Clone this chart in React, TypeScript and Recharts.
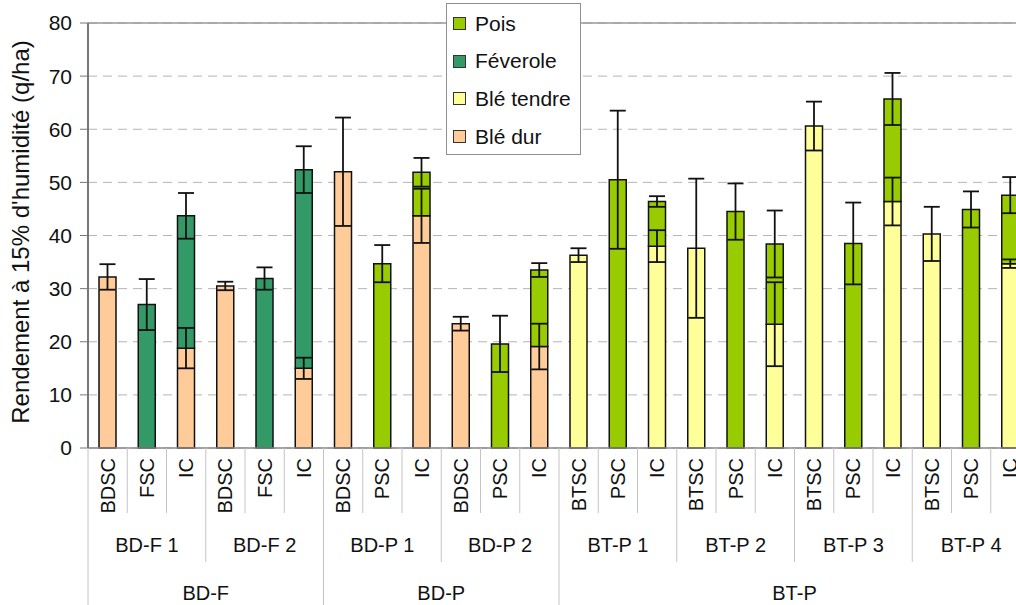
import React from "react";
import { BarChart, Bar, XAxis, YAxis, CartesianGrid, ErrorBar, Legend, ReferenceLine } from "recharts";

// x-axis levels
const categories = [
  "BDSC", "FSC", "IC", "BDSC", "FSC", "IC",
  "BDSC", "PSC", "IC", "BDSC", "PSC", "IC",
  "BTSC", "PSC", "IC", "BTSC", "PSC", "IC",
  "BTSC", "PSC", "IC", "BTSC", "PSC", "IC",
];
const groups = ["BD-F 1", "BD-F 2", "BD-P 1", "BD-P 2", "BT-P 1", "BT-P 2", "BT-P 3", "BT-P 4"];
const sections = ["BD-F", "BD-P", "BT-P"];
const sectionStarts = [0, 6, 12];
const sectionEnds = [6, 12, 24];

// yields (q/ha) and error (+/-) per species, null = not grown
const bleDur = [32.2, null, 18.8, 30.5, null, 15.0, 52.0, null, 43.7, 23.4, null, 19.1, null, null, null, null, null, null, null, null, null, null, null, null];
const bleDurErr = [2.4, null, 3.8, 0.8, null, 2.0, 10.2, null, 5.1, 1.3, null, 4.3, null, null, null, null, null, null, null, null, null, null, null, null];
const bleTendre = [null, null, null, null, null, null, null, null, null, null, null, null, 36.3, null, 38.0, 37.6, null, 23.3, 60.6, null, 46.4, 40.3, null, 34.7];
const bleTendreErr = [null, null, null, null, null, null, null, null, null, null, null, null, 1.3, null, 3.0, 13.1, null, 7.9, 4.6, null, 4.5, 5.1, null, 0.8];
const feverole = [null, 27.0, 24.9, null, 31.9, 37.4, null, null, null, null, null, null, null, null, null, null, null, null, null, null, null, null, null, null];
const feveroleErr = [null, 4.8, 4.3, null, 2.1, 4.4, null, null, null, null, null, null, null, null, null, null, null, null, null, null, null, null, null, null];
const pois = [null, null, null, null, null, null, null, 34.7, 8.2, null, 19.6, 14.4, null, 50.5, 8.4, null, 44.5, 15.1, null, 38.5, 19.3, null, 44.9, 12.9];
const poisErr = [null, null, null, null, null, null, null, 3.5, 2.7, null, 5.3, 1.3, null, 13.0, 1.0, null, 5.3, 6.3, null, 7.7, 4.9, null, 3.4, 3.4];

const yTicks = [0, 10, 20, 30, 40, 50, 60, 70, 80];

const data = categories.map((name, i) => ({
  name,
  bleDur: bleDur[i], bleDurErr: bleDurErr[i],
  bleTendre: bleTendre[i], bleTendreErr: bleTendreErr[i],
  feverole: feverole[i], feveroleErr: feveroleErr[i],
  pois: pois[i], poisErr: poisErr[i],
}));

const CHART_W = 1040;
const CHART_H = 605;
const Y_AXIS_W = 88;
const MARGIN = { top: 23, right: 10, bottom: 0, left: 0 };
const SLOT = (CHART_W - MARGIN.right - Y_AXIS_W) / categories.length;
const FONT = "'Liberation Sans', Arial, sans-serif";

function CategoryTick({ x, y, index }: any) {
  const left = x - SLOT / 2;
  let len = 65;
  if (sectionStarts.includes(index)) len = 157;
  else if (index % 3 === 0) len = 114;
  const secIdx = sectionStarts.findIndex((s, k) => index === Math.floor((s + sectionEnds[k]) / 2));
  return (
    <g>
      <line x1={left} y1={y} x2={left} y2={y + len} stroke="#c4c4c4" strokeWidth={1} />
      <text
        x={x + 7}
        y={y + 10}
        transform={`rotate(-90 ${x + 7} ${y + 10})`}
        textAnchor="end"
        fontSize={20}
        fill="#111"
        fontFamily={FONT}
      >
        {categories[index]}
      </text>
      {index % 3 === 1 && (
        <text x={x} y={y + 104} textAnchor="middle" fontSize={20} fill="#111" fontFamily={FONT}>
          {groups[Math.floor(index / 3)]}
        </text>
      )}
      {secIdx >= 0 && (
        <text x={left} y={y + 152} textAnchor="middle" fontSize={20} fill="#111" fontFamily={FONT}>
          {sections[secIdx]}
        </text>
      )}
    </g>
  );
}

function LegendBox({ payload }: any) {
  const items = [...(payload ?? [])].reverse();
  return (
    <div style={{
      width: 135, height: 152, boxSizing: "border-box",
      border: "1px solid #8f8f8f", background: "#fff",
      paddingTop: 1, fontFamily: FONT, fontSize: 21, color: "#111",
    }}>
      {items.map((it: any) => (
        <div key={it.value} style={{ display: "flex", alignItems: "center", height: 37.6 }}>
          <span style={{
            display: "inline-block", width: 11, height: 11, marginLeft: 6, marginRight: 9,
            border: "1.5px solid #333", background: it.color,
          }} />
          <span>{it.value}</span>
        </div>
      ))}
    </div>
  );
}

export default function App() {
  return (
    <div style={{
      position: "fixed", left: 0, top: 0, width: 1016, height: 605,
      overflow: "hidden", background: "#fff", fontFamily: FONT,
    }}>
      <BarChart width={CHART_W} height={CHART_H} data={data} margin={MARGIN} barSize={17}>
        <CartesianGrid vertical={false} strokeDasharray="9 6" stroke="#b5b5b5" />
        <ReferenceLine y={80} stroke="#999" strokeWidth={1.5} />
        <XAxis
          dataKey="name"
          interval={0}
          height={CHART_H - 448}
          tickLine={false}
          tickSize={0}
          tickMargin={0}
          axisLine={{ stroke: "#888", strokeWidth: 1.5 }}
          tick={(p: any) => <CategoryTick {...p} />}
        />
        <YAxis
          domain={[0, 80]}
          ticks={yTicks}
          width={Y_AXIS_W}
          tickSize={8}
          tickMargin={8}
          axisLine={{ stroke: "#777", strokeWidth: 2 }}
          tickLine={{ stroke: "#777" }}
          tick={{ fontSize: 21, fill: "#111", fontFamily: FONT }}
          label={{
            content: () => (
              <text x={29} y={232} transform="rotate(-90 29 232)" textAnchor="middle" fontSize={24} fill="#111" fontFamily={FONT}>
                Rendement à 15% d'humidité (q/ha)
              </text>
            ),
          }}
        />
        <Legend
          layout="vertical"
          align="center"
          verticalAlign="middle"
          content={(p: any) => <LegendBox {...p} />}
          wrapperStyle={{ left: 446, top: 3, width: 135 }}
        />
        <Bar dataKey="bleDur" name="Blé dur" stackId="a" fill="#FFCC99" stroke="#111" strokeWidth={1.5} isAnimationActive={false}>
          <ErrorBar dataKey="bleDurErr" width={8} stroke="#111" strokeWidth={1.8} />
        </Bar>
        <Bar dataKey="bleTendre" name="Blé tendre" stackId="a" fill="#FFFF99" stroke="#111" strokeWidth={1.5} isAnimationActive={false}>
          <ErrorBar dataKey="bleTendreErr" width={8} stroke="#111" strokeWidth={1.8} />
        </Bar>
        <Bar dataKey="feverole" name="Féverole" stackId="a" fill="#339966" stroke="#111" strokeWidth={1.5} isAnimationActive={false}>
          <ErrorBar dataKey="feveroleErr" width={8} stroke="#111" strokeWidth={1.8} />
        </Bar>
        <Bar dataKey="pois" name="Pois" stackId="a" fill="#99CC00" stroke="#111" strokeWidth={1.5} isAnimationActive={false}>
          <ErrorBar dataKey="poisErr" width={8} stroke="#111" strokeWidth={1.8} />
        </Bar>
      </BarChart>
    </div>
  );
}
